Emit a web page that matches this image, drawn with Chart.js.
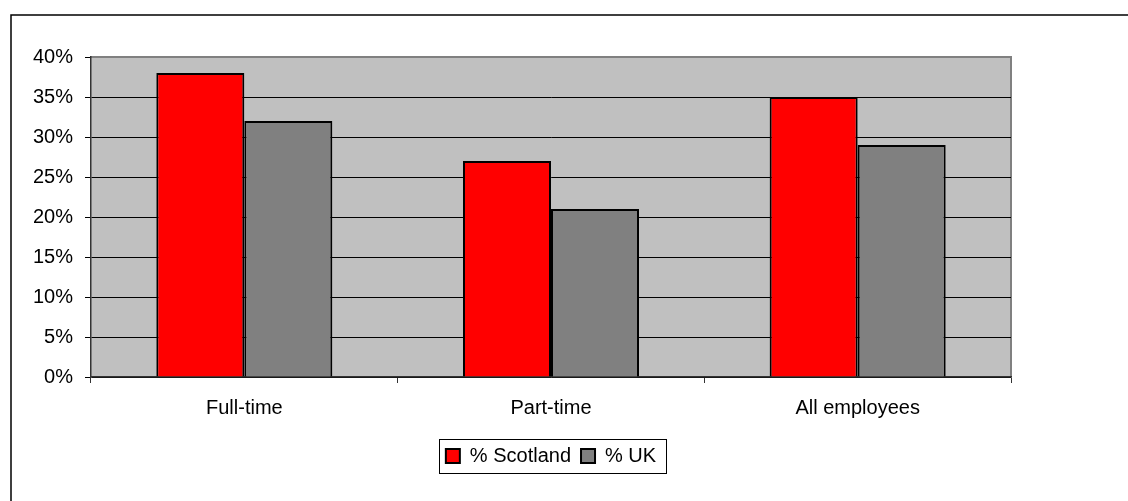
<!DOCTYPE html>
<html>
<head>
<meta charset="utf-8">
<script src="https://cdn.jsdelivr.net/npm/chart.js@4/dist/chart.umd.min.js"></script>
<style>
    body { margin: 0; background: #fff; }
    #wrap { width: 1128px; height: 501px; }
</style>
</head>
<body>
<div id="wrap"><canvas id="chartLuong" width="1128" height="501"></canvas></div>
<script>
let categories = ["Full-time", "Part-time", "All employees"];
let scotland = [38, 27, 35];
let uk = [32, 21, 29];
let yTicks = [0, 5, 10, 15, 20, 25, 30, 35, 40];

Chart.defaults.font.family = "'Liberation Sans', Arial, sans-serif";
Chart.defaults.font.size = 20;
Chart.defaults.color = "#000";

// nen xam cho vung ve + khung ngoai
const khung = {
    id: "khung",
    beforeDraw(chart) {
        let {ctx, chartArea: a} = chart;
        ctx.save();
        ctx.fillStyle = "#fff";
        ctx.fillRect(0, 0, chart.width, chart.height);
        ctx.fillStyle = "#c0c0c0";
        ctx.fillRect(a.left, a.top, a.right - a.left, a.bottom - a.top);
        ctx.strokeStyle = "#808080";
        ctx.lineWidth = 2;
        ctx.beginPath();
        ctx.moveTo(a.left, a.top);
        ctx.lineTo(a.right, a.top);
        ctx.lineTo(a.right, a.bottom);
        ctx.stroke();
        ctx.strokeStyle = "#000";
        ctx.lineWidth = 1.5;
        ctx.beginPath();
        ctx.moveTo(11, chart.height);
        ctx.lineTo(11, 15);
        ctx.lineTo(chart.width, 15);
        ctx.stroke();
        ctx.restore();
    },
    afterDraw(chart) {
        let boxes = chart.legend.legendHitBoxes;
        if (!boxes || !boxes.length) return;
        let first = boxes[0], last = boxes[boxes.length - 1];
        let cy = first.top + first.height / 2;
        let ctx = chart.ctx;
        ctx.save();
        ctx.strokeStyle = "#000";
        ctx.lineWidth = 1;
        ctx.strokeRect(Math.round(first.left - 7) + 0.5, Math.round(cy - 17) + 0.5,
            Math.round(last.left + last.width - first.left + 17), 34);
        ctx.restore();
    }
};

new Chart(document.querySelector("#chartLuong").getContext("2d"), {
    type: "bar",
    data: {
        labels: categories,
        datasets: [{
            label: "% Scotland",
            data: scotland,
            backgroundColor: "#ff0000",
            borderColor: "#000",
            borderWidth: 2,
            categoryPercentage: 0.574,
            barPercentage: 1
        }, {
            label: "% UK",
            data: uk,
            backgroundColor: "#808080",
            borderColor: "#000",
            borderWidth: 2,
            categoryPercentage: 0.574,
            barPercentage: 1
        }]
    },
    options: {
        responsive: false,
        animation: false,
        layout: {padding: {left: 0, top: 57, right: 117, bottom: 25}},
        plugins: {
            tooltip: {enabled: false},
            legend: {
                position: "bottom",
                fullSize: false,
                labels: {boxWidth: 14, boxHeight: 14, padding: 10, color: "#000"}
            }
        },
        scales: {
            x: {
                grid: {offset: true, drawOnChartArea: false, tickLength: 6, color: "#333"},
                border: {color: "#333", width: 1.5},
                ticks: {padding: 13},
                afterFit(scale) { scale.height = 59; }
            },
            y: {
                min: 0,
                max: 40,
                afterBuildTicks(scale) { scale.ticks = yTicks.map(v => ({value: v})); },
                ticks: {padding: 12, callback: v => v + "%"},
                grid: {
                    color: ctx => ctx.tick && ctx.tick.value === 40 ? "#808080" : "#000",
                    tickColor: "#000",
                    tickLength: 6
                },
                border: {color: "#333", width: 1.5},
                afterFit(scale) { scale.width = 91; }
            }
        }
    },
    plugins: [khung]
});
</script>
</body>
</html>
